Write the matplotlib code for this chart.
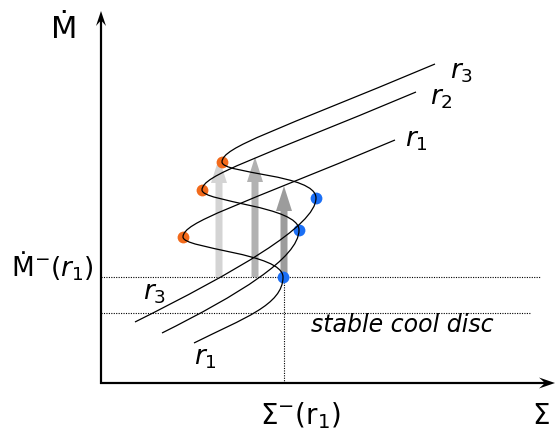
import matplotlib
matplotlib.use("Agg")
import matplotlib.pyplot as plt
from matplotlib.path import Path
from matplotlib.patches import PathPatch

# S-curves (pixel coords, y down)
curve_names = ["r1", "r2", "r3"]
lower_start = [(194, 343), (162, 333), (135, 322)]
blue_pts = [(283, 277), (299, 230), (316, 198)]
orange_pts = [(183, 237), (202, 190), (222, 162)]
upper_end = [(395, 140), (416, 92), (435, 64)]

arrow_x = [219, 255, 284]
arrow_tip = [158, 157, 186]
arrow_base = 277
arrow_col = ["#d4d4d4", "#b2b2b2", "#9c9c9c"]

fig = plt.figure(figsize=(5.56, 4.37), dpi=100)
ax = fig.add_axes([0, 0, 1, 1])
ax.set_xlim(0, 556)
ax.set_ylim(437, 0)
ax.axis("off")


def s_curve(p0, b, o, e):
    # lower branch -> blue turning point -> orange turning point -> upper branch
    dx = b[0] - p0[0]
    verts = [p0,
             (p0[0] + 0.55 * dx, p0[1] - 0.55 * dx * 0.5),
             (b[0], b[1] + 28),
             b,
             (b[0], b[1] - 24),
             (o[0], o[1] + 12),
             o,
             (o[0], o[1] - 15),
             (e[0] - 0.75 * (e[0] - o[0]), e[1] + 0.75 * (e[0] - o[0]) * 0.42),
             e]
    codes = [Path.MOVETO] + [Path.CURVE4] * 9
    return Path(verts, codes)


dots = (0, (1, 1.2))
# dotted guide lines
ax.plot([101, 540], [277, 277], color="black", lw=0.8, ls=dots)
ax.plot([101, 530], [313, 313], color="black", lw=0.8, ls=dots)
ax.plot([284, 284], [277, 383], color="black", lw=0.8, ls=dots)

# grey vertical arrows
for x, t, c in zip(arrow_x, arrow_tip, arrow_col):
    ax.arrow(x, arrow_base, 0, t - arrow_base, width=7, head_width=16,
             head_length=25, length_includes_head=True,
             color=c, lw=0, zorder=2)

# turning points
for b, o in zip(blue_pts, orange_pts):
    ax.plot(*b, "o", color="#1b6ff5", ms=8.5, mec="none", zorder=3)
    ax.plot(*o, "o", color="#f26a1b", ms=8.5, mec="none", zorder=3)

for p0, b, o, e in zip(lower_start, blue_pts, orange_pts, upper_end):
    ax.add_patch(PathPatch(s_curve(p0, b, o, e), fill=False, ec="black", lw=0.9, zorder=4))

# axes with arrows
ax.arrow(101, 384, 0, 11 - 384, width=2.2, head_width=10, head_length=15,
         overhang=0.3, length_includes_head=True, color="black", lw=0)
ax.arrow(100, 383, 555 - 100, 0, width=2.2, head_width=11, head_length=16,
         overhang=0.3, length_includes_head=True, color="black", lw=0)

# labels
ax.text(64, 30, "Ṁ", fontsize=22, ha="center", va="center")
ax.text(52, 266, r"Ṁ$^{-}$($r_1$)", fontsize=19, ha="center", va="center")
ax.text(300, 416, r"$\Sigma^{-}(\mathrm{r}_1)$", fontsize=20, ha="center", va="center")
ax.text(541, 416, r"$\Sigma$", fontsize=20, ha="center", va="center")
ax.text(402, 325, "stable cool disc", fontsize=17, style="italic", ha="center", va="center")

ax.text(462, 72, r"$r_3$", fontsize=19, ha="center", va="center")
ax.text(441, 98, r"$r_2$", fontsize=19, ha="center", va="center")
ax.text(416, 140, r"$r_1$", fontsize=19, ha="center", va="center")
ax.text(155, 293, r"$r_3$", fontsize=19, ha="center", va="center")
ax.text(205, 358, r"$r_1$", fontsize=19, ha="center", va="center")

fig.savefig("out.png", dpi=100)
